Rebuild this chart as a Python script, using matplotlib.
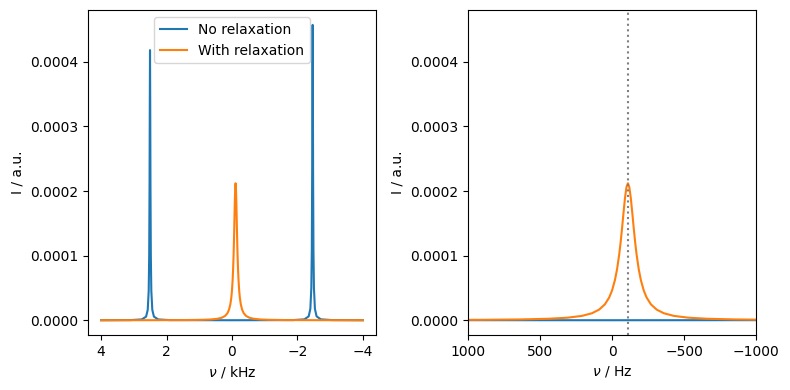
import matplotlib
matplotlib.use("Agg")
import matplotlib.pyplot as plt

# Frequencies in Hz and intensities (a.u.)
freq_no_relax = [-4000, -3065, -2715, -2585, -2535, -2505, -2490, -2479, -2472, -2465,
                 -2458, -2451, -2440, -2425, -2395, -2345, -2215, -1865,
                 0,
                 1905, 2255, 2385, 2435, 2465, 2480, 2491, 2498, 2505,
                 2512, 2519, 2530, 2545, 2575, 2625, 2755, 3105, 4000]
int_no_relax = [2.5e-8, 2.5e-7, 1.43e-6, 6.1e-6, 1.76e-5, 4.98e-5, 1.09e-4, 2.29e-4, 3.66e-4, 4.57e-4,
                3.66e-4, 2.29e-4, 1.09e-4, 4.98e-5, 1.76e-5, 6.1e-6, 1.43e-6, 2.5e-7,
                3.0e-8,
                2.3e-7, 1.31e-6, 5.6e-6, 1.61e-5, 4.56e-5, 1.0e-4, 2.09e-4, 3.34e-4, 4.18e-4,
                3.34e-4, 2.09e-4, 1.0e-4, 4.56e-5, 1.61e-5, 5.6e-6, 1.31e-6, 2.3e-7, 3.0e-8]

freq_relax = [-4000, -2610, -1610, -1110, -860, -660, -530, -430, -360, -310, -270, -240, -220, -200,
              -185, -170, -160, -150, -140, -130, -120, -110, -100, -90, -80, -70, -60, -50, -35, -20,
              0, 20, 50, 90, 140, 210, 310, 440, 640, 890, 1390, 2390, 4000]
int_relax = [4.7e-8, 1.14e-7, 3.2e-7, 7.1e-7, 1.26e-6, 2.33e-6, 3.97e-6, 6.74e-6, 1.083e-5, 1.645e-5,
             2.46e-5, 3.52e-5, 4.61e-5, 6.22e-5, 7.93e-5, 1.024e-4, 1.216e-4, 1.437e-4, 1.673e-4, 1.895e-4,
             2.059e-4, 2.12e-4, 2.059e-4, 1.895e-4, 1.673e-4, 1.437e-4, 1.216e-4, 1.024e-4, 7.93e-5, 6.22e-5,
             4.61e-5, 3.52e-5, 2.46e-5, 1.645e-5, 1.083e-5, 6.74e-6, 3.97e-6, 2.33e-6, 1.26e-6, 7.1e-7,
             3.2e-7, 1.14e-7, 4.2e-8]
center_freq = -110

fig, (ax1, ax2) = plt.subplots(1, 2, figsize=(7.9, 3.9), dpi=100)
fig.subplots_adjust(left=0.1114, right=0.957, bottom=0.141, top=0.974, wspace=0.32)

ax1.plot([f / 1000 for f in freq_no_relax], int_no_relax, label="No relaxation")
ax1.plot([f / 1000 for f in freq_relax], int_relax, label="With relaxation")
ax1.invert_xaxis()
ax1.set_xlabel(r"$\nu$ / kHz")
ax1.set_ylabel("I / a.u.")
ax1.legend(loc="upper center")

ax2.plot(freq_no_relax, int_no_relax)
ax2.plot(freq_relax, int_relax)
ax2.axvline(center_freq, color="grey", linestyle=":")
ax2.set_xlim(1000, -1000)
ax2.set_ylim(ax1.get_ylim())
ax2.set_xlabel(r"$\nu$ / Hz")
ax2.set_ylabel("I / a.u.")

fig.savefig("out.png", dpi=100)
